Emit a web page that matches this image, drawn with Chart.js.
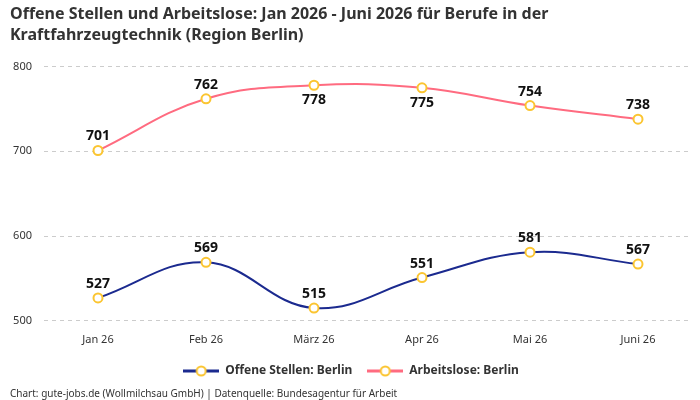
<!DOCTYPE html>
<html>
<head>
<meta charset="utf-8">
<script src="https://cdn.jsdelivr.net/npm/chart.js@4"></script>
<style>
  html, body { margin: 0; padding: 0; background: #fff; }
  #wrap { width: 700px; height: 400px; }
</style>
</head>
<body>
<div id="wrap"><canvas id="chart"></canvas></div>
<script>
// Daten
const months = ['Jan 26', 'Feb 26', 'März 26', 'Apr 26', 'Mai 26', 'Juni 26'];
const offeneStellen = [527, 569, 515, 551, 581, 567];
const arbeitslose = [701, 762, 778, 775, 754, 738];
// Position der Werte: 1 = oben, -1 = unten
const offenePos = [1, 1, 1, 1, 1, 1];
const arbeitslosePos = [1, 1, -1, -1, 1, 1];
const yTicks = [500, 600, 700, 800];

const fontFamily = '"Noto Sans", "DejaVu Sans", sans-serif';
const navy = '#1b2a8f';
const pink = '#ff6b80';
const gold = '#fbc531';

// Legenden-Symbol: Linie mit Kreis
function legendIcon(color) {
    const c = document.createElement('canvas');
    c.width = 36; c.height = 12;
    const g = c.getContext('2d');
    g.strokeStyle = color;
    g.lineWidth = 3;
    g.beginPath(); g.moveTo(0, 6); g.lineTo(36, 6); g.stroke();
    g.lineWidth = 2;
    g.beginPath(); g.arc(18, 6, 4.5, 0, Math.PI * 2);
    g.fillStyle = '#fff'; g.fill();
    g.strokeStyle = gold; g.stroke();
    return c;
}

// Werte an die Punkte schreiben
const valueLabels = {
    id: 'valueLabels',
    afterDatasetsDraw(chart) {
        const ctx = chart.ctx;
        ctx.save();
        ctx.font = 'bold 14px ' + fontFamily;
        ctx.fillStyle = '#111';
        ctx.textAlign = 'center';
        chart.data.datasets.forEach((ds, i) => {
            const meta = chart.getDatasetMeta(i);
            meta.data.forEach((pt, j) => {
                const up = ds.labelPos[j] > 0;
                ctx.textBaseline = up ? 'bottom' : 'top';
                ctx.fillText(String(ds.data[j]), pt.x, up ? pt.y - 7 : pt.y + 8);
            });
        });
        ctx.restore();
    }
};

new Chart(document.getElementById('chart'), {
    type: 'line',
    data: {
        labels: months,
        datasets: [{
            label: 'Offene Stellen: Berlin',
            data: offeneStellen,
            labelPos: offenePos,
            borderColor: navy,
            borderWidth: 2,
            tension: 0.4,
            pointRadius: 4.5,
            pointBorderWidth: 2,
            pointBackgroundColor: '#fff',
            pointBorderColor: gold
        }, {
            label: 'Arbeitslose: Berlin',
            data: arbeitslose,
            labelPos: arbeitslosePos,
            borderColor: pink,
            borderWidth: 2,
            tension: 0.4,
            pointRadius: 4.5,
            pointBorderWidth: 2,
            pointBackgroundColor: '#fff',
            pointBorderColor: gold
        }]
    },
    options: {
        responsive: true,
        maintainAspectRatio: false,
        animation: false,
        layout: { padding: { left: 10, right: 8, top: 4, bottom: 0 } },
        plugins: {
            title: {
                display: true,
                text: ['Offene Stellen und Arbeitslose: Jan 2026 - Juni 2026 für Berufe in der', 'Kraftfahrzeugtechnik (Region Berlin)'],
                align: 'start',
                color: '#333',
                font: { size: 16, weight: 'bold', family: fontFamily, lineHeight: 1.3 },
                padding: { top: 0, bottom: 21 }
            },
            subtitle: {
                display: true,
                position: 'bottom',
                align: 'start',
                text: 'Chart: gute-jobs.de (Wollmilchsau GmbH) | Datenquelle: Bundesagentur für Arbeit',
                color: '#333',
                font: { size: 10, family: fontFamily },
                padding: { top: 1, bottom: 0 }
            },
            legend: {
                position: 'bottom',
                labels: {
                    usePointStyle: true,
                    pointStyleWidth: 36,
                    color: '#333',
                    font: { size: 12, weight: 'bold', family: fontFamily },
                    padding: 15,
                    generateLabels(chart) {
                        return chart.data.datasets.map((ds, i) => ({
                            text: ds.label,
                            pointStyle: legendIcon(ds.borderColor),
                            fontColor: '#333',
                            datasetIndex: i,
                            lineWidth: 0,
                            strokeStyle: 'transparent',
                            fillStyle: 'transparent'
                        }));
                    }
                }
            },
            tooltip: { enabled: false }
        },
        scales: {
            x: {
                offset: true,
                grid: { display: false },
                border: { display: false },
                ticks: { color: '#333', font: { size: 11, family: fontFamily }, padding: 4 }
            },
            y: {
                min: 500,
                max: 800,
                afterBuildTicks(axis) { axis.ticks = yTicks.map(v => ({ value: v })); },
                afterFit(axis) { axis.width = 34; },
                border: { display: false, dash: [4, 4] },
                grid: { color: '#cccccc', drawTicks: false, lineWidth: 1 },
                ticks: { color: '#333', font: { size: 11, family: fontFamily }, padding: 12 }
            }
        }
    },
    plugins: [valueLabels]
});
</script>
</body>
</html>
